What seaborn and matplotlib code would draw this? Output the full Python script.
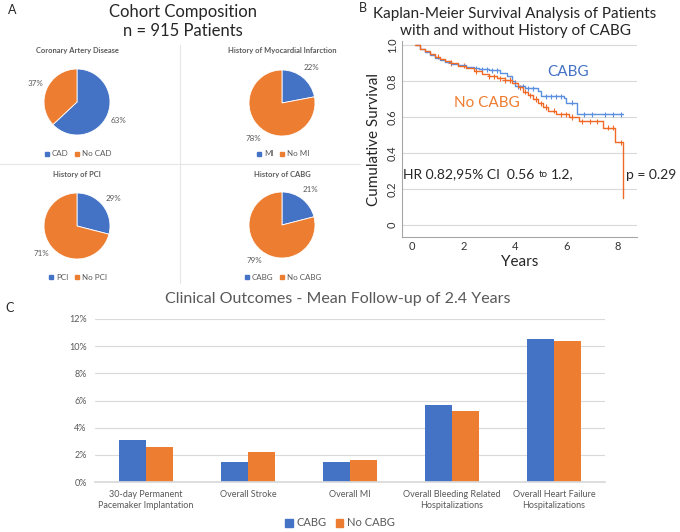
import numpy as np
import pandas as pd
import matplotlib
matplotlib.use("Agg")
import matplotlib.pyplot as plt
import seaborn as sns
from matplotlib.patches import Patch
from matplotlib.lines import Line2D

BLUE = "#4472C4"
ORANGE = "#ED7D31"
GRAY = "#595959"

# panel A - cohort composition pies
pie_titles = ["Coronary Artery Disease", "History of Myocardial Infarction",
              "History of PCI", "History of CABG"]
pie_labels = [["CAD", "No CAD"], ["MI", "No MI"], ["PCI", "No PCI"], ["CABG", "No CABG"]]
pie_values = [[63, 37], [22, 78], [29, 71], [21, 79]]

# panel B - Kaplan-Meier step points (years, survival)
cabg_t = [0.1, 0.3, 0.5, 0.7, 0.9, 1.1, 1.3, 1.5, 1.8, 2.1, 2.4, 2.6, 3.0, 3.4,
          3.7, 3.9, 4.0, 4.4, 4.9, 5.0, 5.9, 6.0, 6.4, 8.2]
cabg_s = [1.0, 0.98, 0.96, 0.945, 0.93, 0.915, 0.905, 0.895, 0.89, 0.88, 0.87,
          0.865, 0.86, 0.845, 0.825, 0.80, 0.77, 0.76, 0.745, 0.715, 0.705, 0.68,
          0.615, 0.615]
nocabg_t = [0.1, 0.3, 0.5, 0.7, 0.9, 1.1, 1.3, 1.5, 1.8, 2.1, 2.4, 2.7, 3.0, 3.3,
            3.6, 3.9, 4.1, 4.3, 4.5, 4.7, 4.9, 5.1, 5.3, 5.6, 6.1, 6.5, 7.4, 7.9,
            8.2]
nocabg_s = [1.0, 0.98, 0.965, 0.95, 0.935, 0.92, 0.91, 0.90, 0.885, 0.87, 0.855,
            0.84, 0.825, 0.815, 0.805, 0.79, 0.765, 0.74, 0.72, 0.70, 0.675, 0.655,
            0.635, 0.615, 0.60, 0.575, 0.54, 0.46, 0.15]
cabg_censor = [2.5, 2.7, 2.9, 3.1, 3.3, 4.1, 4.3, 4.5, 4.7, 5.2, 5.4, 5.6, 5.8,
               6.2, 6.7, 7.0, 7.5, 7.8, 8.1]
nocabg_censor = [1.0, 1.5, 2.0, 2.5, 3.0, 3.2, 3.4, 3.6, 3.8, 4.0, 4.2, 4.4, 4.6,
                 4.8, 5.0, 5.2, 5.5, 5.8, 6.0, 6.2, 6.6, 6.9, 7.2, 7.6, 7.8, 8.1]

# panel C - clinical outcomes
outcomes = ["30-day Permanent\nPacemaker Implantation", "Overall Stroke",
            "Overall MI", "Overall Bleeding Related\nHospitalizations",
            "Overall Heart Failure\nHospitalizations"]
cabg_rate = [3.1, 1.5, 1.5, 5.7, 10.5]
nocabg_rate = [2.6, 2.2, 1.6, 5.2, 10.4]

sns.set_theme(style="white")
plt.rcParams["font.family"] = ["Lato", "DejaVu Sans"]

W, H = 680, 532
fig = plt.figure(figsize=(W / 100, H / 100), dpi=100)


def ax_px(left, top, width, height):
    return fig.add_axes([left / W, 1 - (top + height) / H, width / W, height / H])


def fig_text(x, y, s, **kw):
    fig.text(x / W, 1 - y / H, s, **kw)


# ---------- A ----------
fig_text(12, 10, "A", fontsize=9, va="center", ha="center")
fig_text(183, 12, "Cohort Composition", fontsize=12, ha="center", va="center")
fig_text(183, 31, "n = 915 Patients", fontsize=12, ha="center", va="center")

centers = [(77, 102), (282, 103), (77, 226), (282, 225)]
title_y = [51, 51, 174, 174]
legend_y = [154, 154, 277, 277]
r = 33
for i in range(4):
    cx, cy = centers[i]
    ax = ax_px(cx - r, cy - r, 2 * r, 2 * r)
    wedges, _, autotexts = ax.pie(pie_values[i], colors=[BLUE, ORANGE], startangle=90,
                                  counterclock=False, autopct="%d%%", pctdistance=1.38,
                                  wedgeprops=dict(edgecolor="white", linewidth=0.6),
                                  textprops=dict(fontsize=5.8, color=GRAY))
    ax.set_xlim(-1, 1)
    ax.set_ylim(-1, 1)
    fig_text(cx, title_y[i], pie_titles[i], fontsize=5.4, color=GRAY,
             fontweight="bold", ha="center", va="center")
    handles = [Line2D([], [], marker="s", ls="", color=c, markersize=3)
               for c in [BLUE, ORANGE]]
    fig.legend(handles, pie_labels[i], loc="center", ncol=2, frameon=False,
               bbox_to_anchor=(cx / W, 1 - legend_y[i] / H), fontsize=5.8,
               handletextpad=0.0, columnspacing=0.5, handlelength=1.2, labelcolor=GRAY)

fig.add_artist(Line2D([180 / W, 180 / W], [1 - 45 / H, 1 - 283 / H], color="#E6E6E6", lw=0.8))
fig.add_artist(Line2D([0, 360 / W], [1 - 164 / H, 1 - 164 / H], color="#E6E6E6", lw=0.8))

# ---------- B ----------
fig_text(363, 8, "B", fontsize=9, ha="center", va="center")
fig_text(515, 14, "Kaplan-Meier Survival Analysis of Patients", fontsize=11,
         ha="center", va="center")
fig_text(515, 31, "with and without History of CABG", fontsize=11,
         ha="center", va="center")

axb = ax_px(402, 41, 235, 196)
km_colors = {"CABG": "#5B8FE0", "No CABG": "#F06A26"}
km = pd.concat([
    pd.DataFrame({"t": cabg_t, "s": cabg_s, "g": "CABG"}),
    pd.DataFrame({"t": nocabg_t, "s": nocabg_s, "g": "No CABG"}),
])
sns.lineplot(data=km, x="t", y="s", hue="g", palette=km_colors,
             drawstyle="steps-post", estimator=None, linewidth=1.0, legend=False, ax=axb)


def at_time(ts, ss, c):
    return ss[np.searchsorted(ts, c, side="right") - 1]


cens = pd.concat([
    pd.DataFrame({"t": cabg_censor, "s": [at_time(cabg_t, cabg_s, c) for c in cabg_censor],
                  "g": "CABG"}),
    pd.DataFrame({"t": nocabg_censor, "s": [at_time(nocabg_t, nocabg_s, c) for c in nocabg_censor],
                  "g": "No CABG"}),
])
sns.scatterplot(data=cens, x="t", y="s", hue="g", palette=km_colors,
                marker="+", s=14, linewidth=0.8, legend=False, ax=axb)

axb.set_xlim(-0.39, 8.74)
axb.set_ylim(-0.067, 1.022)
axb.set_yticks([0, 0.2, 0.4, 0.6, 0.8, 1.0])
axb.set_yticklabels(["0", "0.2", "0.4", "0.6", "0.8", "1.0"], rotation=90, va="center")
axb.set_xticks([0, 2, 4, 6, 8])
axb.tick_params(labelsize=8, length=0, pad=3, colors="#333333")
axb.grid(axis="y", color="#D9D9D9", lw=0.8)
axb.set_axisbelow(True)
for sp in ["top", "right"]:
    axb.spines[sp].set_visible(False)
for sp in ["left", "bottom"]:
    axb.spines[sp].set_color("#A6A6A6")
    axb.spines[sp].set_linewidth(0.8)
axb.set_xlabel("Years", fontsize=11, labelpad=2)
axb.set_ylabel("Cumulative Survival", fontsize=11, labelpad=4)
axb.text(6.05, 0.85, "CABG", color=BLUE, fontsize=11, ha="center", va="center")
axb.text(2.9, 0.68, "No CABG", color=ORANGE, fontsize=11, ha="center", va="center")
axb.text(-0.35, 0.28, "HR 0.82,95% CI  0.56", fontsize=10, ha="left", va="center")
axb.text(5.1, 0.28, "to", fontsize=7, ha="center", va="center")
axb.text(5.38, 0.28, "1.2,", fontsize=10, ha="left", va="center")
axb.text(8.3, 0.28, "p = 0.29", fontsize=10, ha="left", va="center", clip_on=False)

# ---------- C ----------
fig_text(10, 308, "C", fontsize=9, ha="center", va="center")
fig_text(338, 299, "Clinical Outcomes - Mean Follow-up of 2.4 Years", fontsize=11.5,
         color=GRAY, ha="center", va="center")

axc = ax_px(95, 319, 510, 163)
bars = pd.concat([
    pd.DataFrame({"outcome": outcomes, "rate": cabg_rate, "group": "CABG"}),
    pd.DataFrame({"outcome": outcomes, "rate": nocabg_rate, "group": "No CABG"}),
])
sns.barplot(data=bars, x="outcome", y="rate", hue="group", palette=[BLUE, ORANGE],
            saturation=1, width=0.53, linewidth=0, legend=False, ax=axc)
axc.set_ylim(0, 12)
axc.set_yticks(range(0, 13, 2))
axc.set_yticklabels([f"{v}%" for v in range(0, 13, 2)])
axc.set_xlim(-0.5, 4.5)
axc.grid(axis="y", color="#D9D9D9", lw=0.8)
axc.set_axisbelow(True)
for sp in ["top", "right", "left"]:
    axc.spines[sp].set_visible(False)
axc.spines["bottom"].set_color("#D9D9D9")
axc.tick_params(labelsize=6.5, length=0, colors=GRAY, pad=6)
axc.set_xlabel("")
axc.set_ylabel("")
fig.legend([Patch(color=BLUE), Patch(color=ORANGE)], ["CABG", "No CABG"],
           loc="center", ncol=2, frameon=False, bbox_to_anchor=(340 / W, 1 - 523 / H),
           fontsize=8, handlelength=0.7, handleheight=0.7, handletextpad=0.3,
           columnspacing=0.8, labelcolor=GRAY)

fig.savefig("out.png", dpi=100, facecolor="white")
